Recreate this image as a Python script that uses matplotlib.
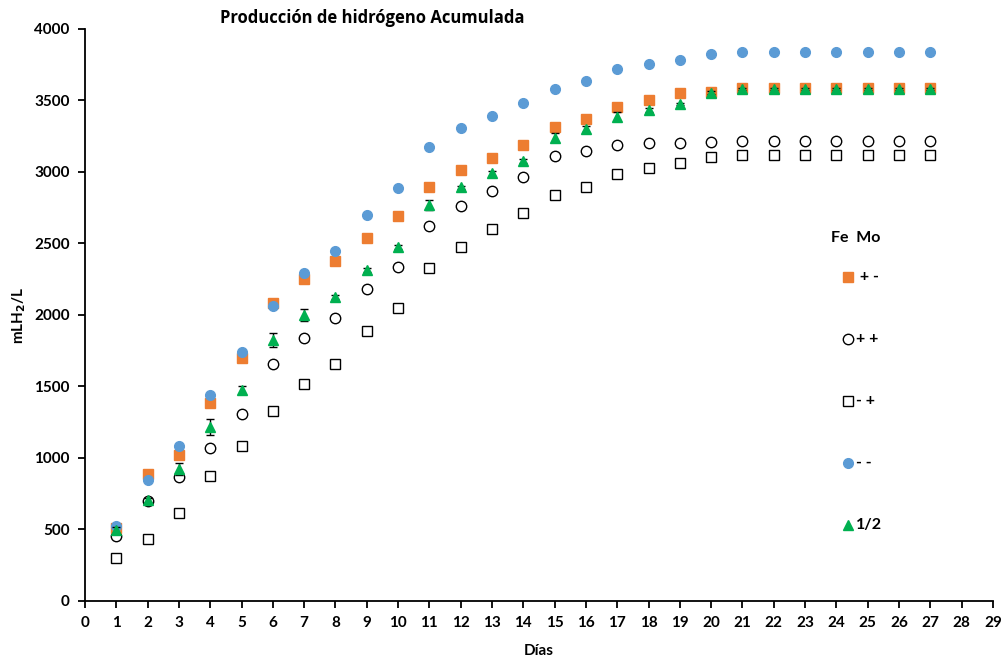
import matplotlib
matplotlib.use("Agg")
import matplotlib.pyplot as plt
from matplotlib.lines import Line2D
import numpy as np

plt.rcParams['font.family'] = ['Lato', 'DejaVu Sans']

dias = np.arange(1, 28)

# Fe+ Mo-
fe_p_mo_m = [513, 888, 1019, 1385, 1697, 2086, 2250, 2376, 2536, 2692, 2893, 3015, 3095,
             3187, 3312, 3368, 3452, 3503, 3550, 3562, 3590, 3590, 3590, 3590, 3590, 3590, 3590]
# Fe+ Mo+
fe_p_mo_p = [457, 701, 865, 1070, 1305, 1655, 1837, 1977, 2182, 2334, 2624, 2765, 2867,
             2967, 3112, 3149, 3189, 3200, 3205, 3212, 3217, 3217, 3217, 3217, 3217, 3217, 3217]
# Fe- Mo+
fe_m_mo_p = [298, 436, 613, 876, 1084, 1331, 1517, 1659, 1888, 2047, 2331, 2473, 2599,
             2710, 2837, 2897, 2986, 3028, 3061, 3107, 3117, 3117, 3117, 3117, 3117, 3117, 3117]
# Fe- Mo-
fe_m_mo_m = [524, 846, 1084, 1440, 1743, 2063, 2296, 2445, 2701, 2888, 3175, 3308, 3392,
             3480, 3578, 3636, 3720, 3753, 3781, 3825, 3839, 3839, 3839, 3839, 3839, 3839, 3839]
# 1/2
mitad = [496, 706, 923, 1219, 1476, 1825, 2000, 2124, 2315, 2473, 2767, 2893, 2990,
         3077, 3240, 3301, 3387, 3434, 3475, 3555, 3580, 3580, 3580, 3580, 3580, 3580, 3580]
mitad_err = [20, 15, 40, 56, 30, 47, 40, 15, 15, 15, 35, 12, 15,
             12, 30, 20, 30, 12, 10, 10, 8, 8, 8, 8, 8, 8, 8]

naranja = '#ED7D31'
azul = '#5B9BD5'
verde = '#00B050'

fig = plt.figure(figsize=(10.03, 6.57), dpi=100)
ax = fig.add_axes([0.0847, 0.0853, 0.9053, 0.8706])

ax.plot(dias, fe_m_mo_p, ls='none', marker='s', ms=7.5, mfc='white', mec='black', mew=1.0, zorder=3)
ax.plot(dias, fe_p_mo_p, ls='none', marker='o', ms=7.5, mfc='white', mec='black', mew=1.0, zorder=3)
ax.plot(dias, fe_p_mo_m, ls='none', marker='s', ms=7, color=naranja, zorder=4)
ax.plot(dias, fe_m_mo_m, ls='none', marker='o', ms=7, color=azul, zorder=5)
ax.errorbar(dias, mitad, yerr=mitad_err, ls='none', marker='^', ms=7, color=verde,
            ecolor='black', elinewidth=1, capsize=3, zorder=6)

ax.set_xlim(0, 29)
ax.set_ylim(0, 4000)
ax.set_xticks(np.arange(0, 30))
ax.set_yticks(np.arange(0, 4001, 500))
for s in ['top', 'right']:
    ax.spines[s].set_visible(False)
for s in ['left', 'bottom']:
    ax.spines[s].set_linewidth(1.3)
ax.tick_params(direction='out', length=5, width=1.3, labelsize=11, pad=6)
for lbl in ax.get_xticklabels() + ax.get_yticklabels():
    lbl.set_fontweight('bold')

ax.set_xlabel('Días', fontsize=11, fontweight='bold', labelpad=10)
ax.set_ylabel('mLH$_\\mathbf{2}$/L', fontsize=11, fontweight='bold', labelpad=4)

fig.text(0.371, 0.972, 'Producción de hidrógeno Acumulada', ha='center', va='center',
         fontsize=12, fontweight='bold', family=['Open Sans', 'DejaVu Sans'])

# legend
fig.text(0.853, 0.638, 'Fe  Mo', ha='center', va='center', fontsize=11.5, fontweight='bold')
entradas = [
    (dict(marker='s', ms=7, color=naranja, ls='none'), ' + -'),
    (dict(marker='o', ms=7.5, mfc='white', mec='black', mew=1.0, ls='none'), '+ +'),
    (dict(marker='s', ms=7.5, mfc='white', mec='black', mew=1.0, ls='none'), '- +'),
    (dict(marker='o', ms=7, color=azul, ls='none'), '- -'),
    (dict(marker='^', ms=7, color=verde, ls='none'), '1/2'),
]
y_px = [277, 339, 401, 463, 525]
for (estilo, texto), yp in zip(entradas, y_px):
    yf = 1 - yp / 657
    fig.add_artist(Line2D([848 / 1003], [yf], transform=fig.transFigure, **estilo))
    fig.text(856 / 1003, yf, texto, ha='left', va='center', fontsize=11.5, fontweight='bold')

fig.savefig('out.png', dpi=100)
